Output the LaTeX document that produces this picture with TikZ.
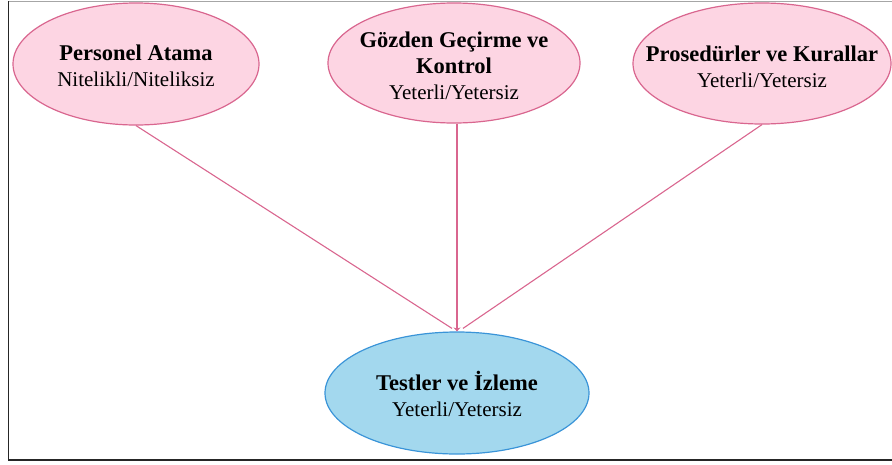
\documentclass[tikz,border=0pt]{standalone}
\usepackage{fontspec}
\setmainfont{Liberation Serif}
\usetikzlibrary{shapes.geometric,arrows.meta,calc}
\definecolor{pinkfill}{HTML}{FDD5E3}
\definecolor{pinkline}{HTML}{D9668F}
\definecolor{bluefill}{HTML}{A3D8EE}
\definecolor{blueline}{HTML}{3A94D8}
\tikzset{
  oval/.style={ellipse, draw=pinkline, fill=pinkfill, line width=1.2pt,
    inner sep=0pt},
  ovalblue/.style={oval, draw=blueline, fill=bluefill},
  lbl/.style={inner sep=0pt, align=center, font=\fontsize{21}{26}\selectfont},
  link/.style={draw=pinkline, line width=1.1pt},
}
\newcommand{\hd}[1]{{\fontsize{22.5}{26}\selectfont\bfseries #1}}
\begin{document}
\begin{tikzpicture}[x=1pt,y=-1pt]
\useasboundingbox (0,0) rectangle (892,464);
% frame
\draw[gray!70, line width=1pt] (8,1) -- (892,1);
\draw[black!85, line width=1.6pt] (8.5,1) -- (8.5,460) -- (892,460);

% source ovals
\node[oval, minimum width=246pt, minimum height=122pt] (n1) at (136,64) {};
\node[oval, minimum width=252pt, minimum height=120pt] (n2) at (454,63) {};
\node[oval, minimum width=258pt, minimum height=121pt] (n3) at (762,63.5) {};

% target oval
\node[ovalblue, minimum width=264pt, minimum height=122pt] (n4) at (457,393) {};

% labels
\node[lbl] (t1) at ($(n1.center)+(0,2)$) {\hd{Personel Atama}\\Nitelikli/Niteliksiz};
\node[lbl] (t2) at ($(n2.center)+(0,3)$) {\hd{Gözden Geçirme ve}\\\hd{Kontrol}\\Yeterli/Yetersiz};
\node[lbl] (t3) at ($(n3.center)+(0,3)$) {\hd{Prosedürler ve Kurallar}\\Yeterli/Yetersiz};
\node[lbl] (t4) at ($(n4.center)+(0,1)$) {\hd{Testler ve İzleme}\\Yeterli/Yetersiz};

% connectors
\coordinate (inL) at ($(n4.north)+(-5,-3)$);
\coordinate (inR) at ($(n4.north)+(6,-3)$);
\draw[link] (n1.south) -- (inL);
\draw[link] (n3.south) -- (inR);
\draw[link, -{Stealth[length=4pt,width=7pt]}] (n2.south -| n4.north) -- (n4.north);
\end{tikzpicture}
\end{document}
